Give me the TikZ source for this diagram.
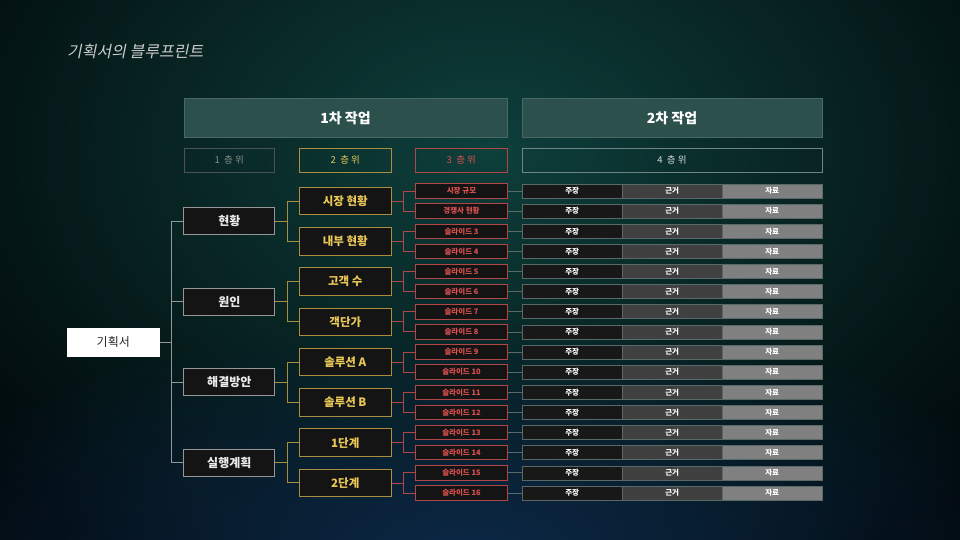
\documentclass[tikz,border=0pt]{standalone}
\usepackage{fontspec}
\setmainfont{Noto Sans CJK KR}
\newfontfamily\slantfont[FakeSlant=0.2]{Noto Sans CJK KR}
\usetikzlibrary{fadings}

\definecolor{bgbase}{RGB}{1,6,8}
\definecolor{glowteal}{RGB}{14,64,60}
\definecolor{glowblue}{RGB}{12,40,70}
\definecolor{headfill}{RGB}{44,80,76}
\definecolor{headline}{RGB}{72,104,100}
\definecolor{boxblack}{RGB}{20,20,20}
\definecolor{greyline}{RGB}{150,150,150}
\definecolor{goldline}{RGB}{168,142,62}
\definecolor{goldtext}{RGB}{234,200,88}
\definecolor{redline}{RGB}{176,70,70}
\definecolor{redtext}{RGB}{222,80,80}
\definecolor{rowline}{RGB}{90,104,104}
\definecolor{cellone}{RGB}{24,24,24}
\definecolor{celltwo}{RGB}{64,64,64}
\definecolor{cellthree}{RGB}{128,128,128}

\tikzfading[name=glow, inner color=transparent!0, outer color=transparent!100]

\tikzset{
  titletext/.style={text=white!80!black, font=\slantfont\fontsize{16}{16}\selectfont, inner sep=0pt},
  headbox/.style={draw=headline, fill=headfill, line width=0.8pt, minimum height=39pt, inner sep=0pt,
    text=white, font=\bfseries\fontsize{14}{14}\selectfont},
  levelbox/.style={line width=0.8pt, minimum height=24pt, inner sep=0pt, font=\fontsize{9.5}{9.5}\selectfont},
  rootbox/.style={fill=white, draw=white, minimum width=92pt, minimum height=28pt, inner sep=0pt,
    text=black!85, font=\fontsize{12}{12}\selectfont},
  lvone/.style={draw=greyline, fill=boxblack, line width=1pt, minimum width=91pt, minimum height=27pt,
    inner sep=0pt, text=white!92!black, font=\bfseries\fontsize{12}{12}\selectfont},
  lvtwo/.style={draw=goldline, fill=boxblack, line width=1pt, minimum width=92pt, minimum height=27.5pt,
    inner sep=0pt, text=goldtext, font=\bfseries\fontsize{11.5}{11.5}\selectfont},
  lvthree/.style={draw=redline, fill=boxblack, line width=0.9pt, minimum width=92pt, minimum height=14.5pt,
    inner sep=0pt, text=redtext, font=\bfseries\fontsize{7.5}{7.5}\selectfont},
  cell/.style={draw=rowline, line width=0.6pt, minimum width=100pt, minimum height=14pt, inner sep=0pt,
    text=white, font=\bfseries\fontsize{7.5}{7.5}\selectfont},
  lineone/.style={draw=greyline, line width=1pt},
  linetwo/.style={draw=goldline, line width=1pt},
  linethree/.style={draw=redline, line width=0.9pt},
  linefour/.style={draw=rowline, line width=0.8pt}
}

\begin{document}
\begin{tikzpicture}[x=1pt,y=-1pt]
  \useasboundingbox (0,0) rectangle (960,540);
  % background
  \fill[bgbase] (0,0) rectangle (960,540);
  \fill[glowteal, path fading=glow] (490,150) ellipse (680 and 480);
  \fill[glowblue, path fading=glow] (470,550) ellipse (620 and 230);

  % title
  \node[titletext, anchor=west] (title) at (67,51) {기획서의 블루프린트};

  % work headers
  \node[headbox, minimum width=323pt] (work1) at (345.5,117.8) {1차 작업};
  \node[headbox, minimum width=300pt] (work2) at (672,117.8) {2차 작업};

  % level row
  \node[levelbox, draw=white!30!bgbase, text=white!55!black, minimum width=90pt] (level1) at (229.2,160.3) {1\ \ 층\ 위};
  \node[levelbox, draw=goldline, text=goldtext, minimum width=92pt] (level2) at (345.3,160.3) {2\ \ 층\ 위};
  \node[levelbox, draw=redline, text=redtext, minimum width=92pt] (level3) at (461.3,160.3) {3\ \ 층\ 위};
  \node[levelbox, draw=headline!80!white, text=white!85!black, minimum width=300pt] (level4) at (672,160.3) {4\ \ 층\ 위};

  % root
  \node[rootbox] (root) at (113.3,342.2) {기획서};

  % level 1
  \foreach \name [count=\k, evaluate=\k as \y using 221.2+80.53*(\k-1)] in {현황, 원인, 해결방안, 실행계획} {
    \node[lvone] (l1-\k) at (229.3,\y) {\name};
    \draw[lineone] (root.east) -- ++(12,0) |- (l1-\k.west);
  }

  % level 2
  \foreach \name [count=\j, evaluate=\j as \y using 201.1+40.27*(\j-1),
                  evaluate=\j as \k using int((\j+1)/2)] in
      {시장 현황, 내부 현황, 고객 수, 객단가, 솔루션 A, 솔루션 B, 1단계, 2단계} {
    \node[lvtwo] (l2-\j) at (345.3,\y) {\name};
    \draw[linetwo] (l1-\k.east) -- ++(12,0) |- (l2-\j.west);
  }

  % level 3 and level 4 rows
  \foreach \name [count=\i, evaluate=\i as \y using 191+20.13*(\i-1),
                  evaluate=\i as \j using int((\i+1)/2)] in
      {시장 규모, 경쟁사 현황, 슬라이드 3, 슬라이드 4, 슬라이드 5, 슬라이드 6, 슬라이드 7, 슬라이드 8,
       슬라이드 9, 슬라이드 10, 슬라이드 11, 슬라이드 12, 슬라이드 13, 슬라이드 14, 슬라이드 15, 슬라이드 16} {
    \node[lvthree] (l3-\i) at (461.5,\y) {\name};
    \draw[linethree] (l2-\j.east) -- ++(12,0) |- (l3-\i.west);
    \node[cell, fill=cellone] (claim-\i) at (572.2,\y) {주장};
    \node[cell, fill=celltwo] (reason-\i) at (672.2,\y) {근거};
    \node[cell, fill=cellthree] (data-\i) at (772.2,\y) {자료};
    \draw[linefour] (l3-\i.east) -- (claim-\i.west);
  }
\end{tikzpicture}
\end{document}
